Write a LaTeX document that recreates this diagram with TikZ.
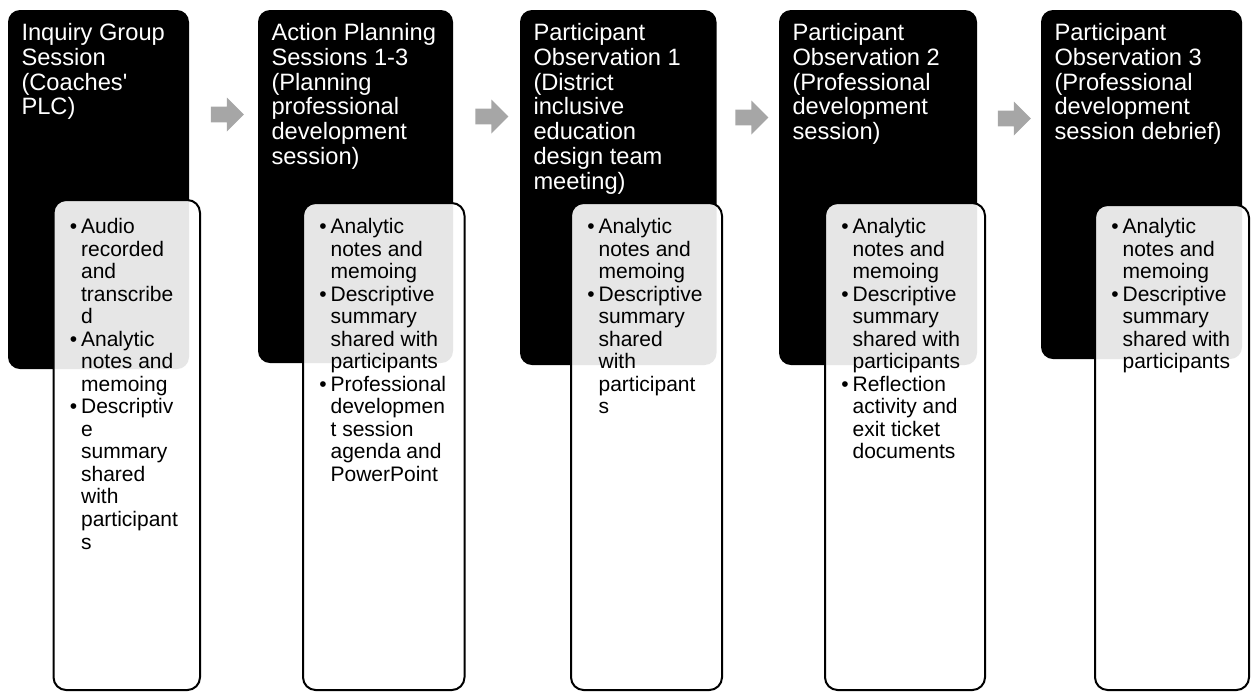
\documentclass[tikz,border=0pt]{standalone}
\usepackage{fontspec}
\setmainfont{Liberation Sans}
\usetikzlibrary{positioning,fit,shapes.arrows}

\definecolor{stepgray}{HTML}{A6A6A6}
% one bullet row of a list; continuation rows start with a bare &
\newcommand{\bl}{\textbullet &}

\begin{document}
\begin{tikzpicture}[x=0.75pt, y=-0.75pt,
  head/.style={rectangle, rounded corners=9pt, fill=black, inner sep=0pt},
  card/.style={rectangle, rounded corners=9.5pt, draw=black, line width=1.5pt,
    fill=white, fill opacity=0.9, inner sep=0pt},
  htext/.style={anchor=north west, inner sep=0pt, text=white, align=left,
    font=\fontsize{17.75}{18.7}\selectfont},
  btext/.style={anchor=north west, inner sep=0pt,
    font=\fontsize{15.75}{16.9}\selectfont},
  next/.style={single arrow, fill=stepgray, inner xsep=0pt, inner ysep=5.625pt,
    minimum width=25.5pt, minimum height=24.75pt,
    single arrow head extend=6.75pt, single arrow tip angle=90}]
  \useasboundingbox (0,0) rectangle (1251,694);

  % dark header blocks
  \node[head, fit={(8,10) (189,369)}]      (h1) {};
  \node[head, fit={(258,10) (453,363)}]    (h2) {};
  \node[head, fit={(520,10) (716.5,365)}]  (h3) {};
  \node[head, fit={(779,10) (977,365)}]    (h4) {};
  \node[head, fit={(1041,10) (1242,359)}]  (h5) {};

  % light cards laid over them
  \node[card, fit={(53.5,200) (200,690)}]  (c1) {};
  \node[card, fit={(303,203) (464.5,690)}] (c2) {};
  \node[card, fit={(571,203) (722,690)}]   (c3) {};
  \node[card, fit={(825,203) (985,690)}]   (c4) {};
  \node[card, fit={(1095,205) (1249,690)}] (c5) {};

  % arrows between the steps
  \node[next] (a1) at (223.5,114.5) {};
  \node[next] (a2) at (488,116.5) {};
  \node[next] (a3) at (748,117.5) {};
  \node[next] (a4) at (1010.5,118.5) {};

  % header texts
  \node[htext] (t1) at ([shift={(13.5,13)}]h1.north west)
    {Inquiry Group\\Session\\(Coaches\textquotesingle\\PLC)};
  \node[htext] (t2) at ([shift={(13.5,13)}]h2.north west)
    {Action Planning\\Sessions 1-3\\(Planning\\professional\\development\\session)};
  \node[htext] (t3) at ([shift={(13.5,13)}]h3.north west)
    {Participant\\Observation 1\\(District\\inclusive\\education\\design team\\meeting)};
  \node[htext] (t4) at ([shift={(13.5,13)}]h4.north west)
    {Participant\\Observation 2\\(Professional\\development\\session)};
  \node[htext] (t5) at ([shift={(13.5,13)}]h5.north west)
    {Participant\\Observation 3\\(Professional\\development\\session debrief)};

  % bullet lists
  \node[btext] (l1) at ([shift={(17,18.5)}]c1.north west)
    {\begin{tabular}{@{}l@{\hspace{3pt}}l@{}}
      \bl Audio\\ & recorded\\ & and\\ & transcribe\\ & d\\
      \bl Analytic\\ & notes and\\ & memoing\\
      \bl Descriptiv\\ & e\\ & summary\\ & shared\\ & with\\ & participant\\ & s
    \end{tabular}};
  \node[btext] (l2) at ([shift={(17,15.5)}]c2.north west)
    {\begin{tabular}{@{}l@{\hspace{3pt}}l@{}}
      \bl Analytic\\ & notes and\\ & memoing\\
      \bl Descriptive\\ & summary\\ & shared with\\ & participants\\
      \bl Professional\\ & developmen\\ & t session\\ & agenda and\\ & PowerPoint
    \end{tabular}};
  \node[btext] (l3) at ([shift={(17,15.5)}]c3.north west)
    {\begin{tabular}{@{}l@{\hspace{3pt}}l@{}}
      \bl Analytic\\ & notes and\\ & memoing\\
      \bl Descriptive\\ & summary\\ & shared\\ & with\\ & participant\\ & s
    \end{tabular}};
  \node[btext] (l4) at ([shift={(17,15.5)}]c4.north west)
    {\begin{tabular}{@{}l@{\hspace{3pt}}l@{}}
      \bl Analytic\\ & notes and\\ & memoing\\
      \bl Descriptive\\ & summary\\ & shared with\\ & participants\\
      \bl Reflection\\ & activity and\\ & exit ticket\\ & documents
    \end{tabular}};
  \node[btext] (l5) at ([shift={(17,13.5)}]c5.north west)
    {\begin{tabular}{@{}l@{\hspace{3pt}}l@{}}
      \bl Analytic\\ & notes and\\ & memoing\\
      \bl Descriptive\\ & summary\\ & shared with\\ & participants
    \end{tabular}};
\end{tikzpicture}
\end{document}
